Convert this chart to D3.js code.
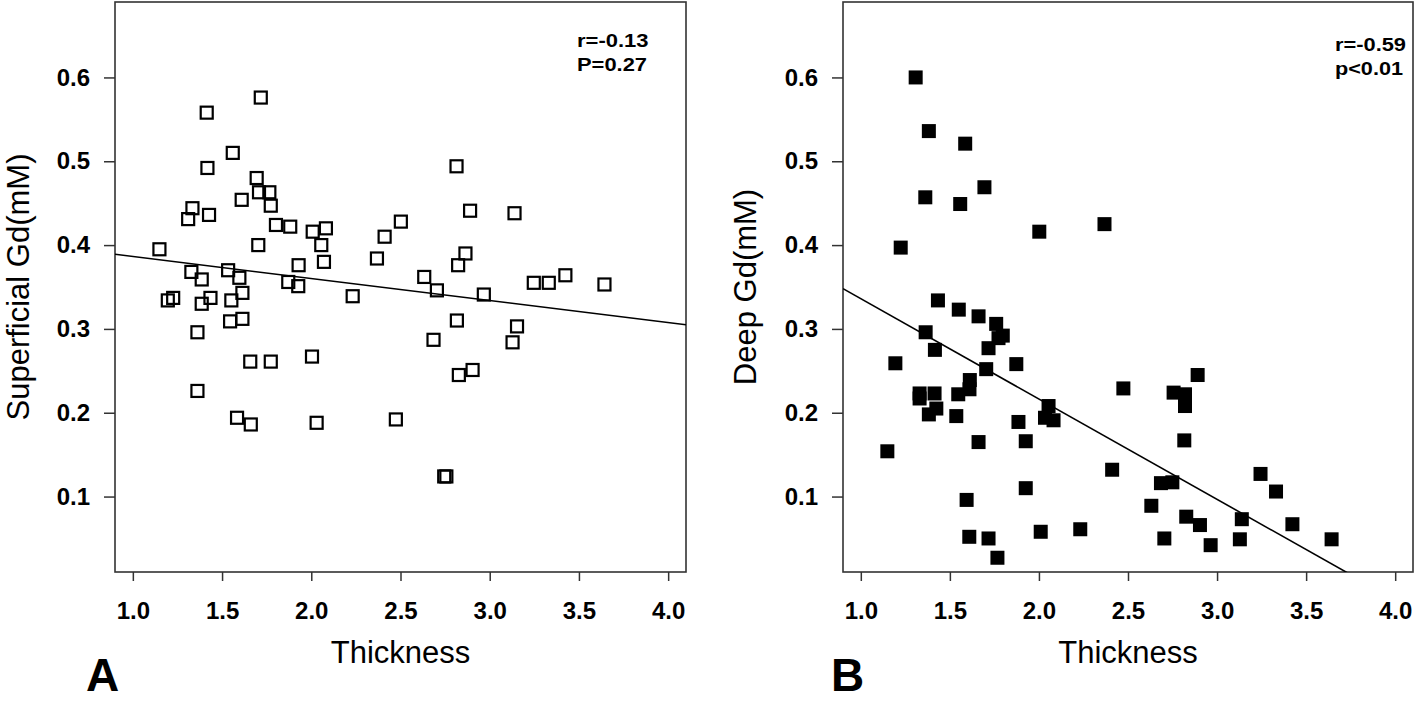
<!DOCTYPE html>
<html>
<head>
<meta charset="utf-8">
<script src="https://cdn.jsdelivr.net/npm/d3@7"></script>
<style>
  html, body { margin: 0; padding: 0; background: #fff; }
  svg { display: block; }
  text { font-family: "Liberation Sans", Arial, sans-serif; fill: #000; }
</style>
</head>
<body>
<svg id="chart" width="1418" height="702"></svg>
<script>
// ---- data ----
const xTicks = [1.0, 1.5, 2.0, 2.5, 3.0, 3.5, 4.0];
const yTicks = [0.1, 0.2, 0.3, 0.4, 0.5, 0.6];

const superficialThickness = [1.717,1.414,1.560,1.418,1.694,1.707,1.765,1.610,1.773,1.334,1.310,1.427,1.802,1.882,2.008,2.082,2.056,1.703,1.149,2.502,2.411,2.368,2.071,1.929,1.328,1.534,1.386,1.597,1.871,1.927,1.196,1.226,1.386,1.435,1.552,1.614,2.232,1.545,1.614,1.362,1.658,1.773,2.004,1.362,1.584,1.661,2.030,2.474,2.814,2.890,3.139,2.864,2.823,2.633,2.704,2.967,3.247,3.331,3.424,3.643,2.816,2.685,3.153,3.128,2.904,2.827,2.745,2.757];
const superficialGd = [0.576,0.558,0.510,0.492,0.480,0.463,0.463,0.454,0.447,0.444,0.431,0.436,0.424,0.422,0.416,0.420,0.400,0.400,0.395,0.428,0.410,0.384,0.380,0.376,0.368,0.370,0.359,0.361,0.356,0.351,0.334,0.337,0.330,0.337,0.334,0.343,0.339,0.309,0.312,0.296,0.261,0.261,0.267,0.226,0.194,0.186,0.188,0.192,0.494,0.441,0.438,0.390,0.376,0.362,0.346,0.341,0.355,0.355,0.364,0.353,0.310,0.287,0.303,0.284,0.251,0.245,0.124,0.124];

const deepThickness = [1.308,1.382,1.586,1.694,1.362,1.558,2.002,2.368,1.224,1.433,1.550,1.661,1.760,1.797,1.773,1.717,1.364,1.416,1.194,1.873,1.704,1.612,1.610,1.547,1.330,1.414,1.330,1.424,1.382,1.536,2.474,2.054,2.034,2.082,1.885,1.661,1.926,1.149,2.411,1.926,1.594,1.609,1.717,1.767,2.010,2.232,2.891,2.756,2.820,2.820,2.816,2.685,2.749,3.244,3.331,2.631,2.827,2.904,3.139,3.423,2.704,2.964,3.128,3.643];
const deepGd = [0.600,0.536,0.521,0.469,0.457,0.449,0.416,0.425,0.397,0.334,0.323,0.315,0.306,0.292,0.289,0.277,0.296,0.275,0.259,0.258,0.252,0.239,0.228,0.222,0.223,0.223,0.217,0.205,0.198,0.196,0.229,0.208,0.194,0.191,0.189,0.165,0.166,0.154,0.132,0.110,0.096,0.052,0.050,0.027,0.058,0.061,0.245,0.224,0.222,0.208,0.167,0.116,0.117,0.127,0.106,0.089,0.076,0.066,0.073,0.067,0.050,0.042,0.049,0.049];

// fitted regression lines (end points)
const superficialFitX = [0.9, 4.1];
const superficialFitY = [0.389, 0.305];
const deepFitX = [0.9, 4.1];
const deepFitY = [0.348, -0.035];

const panels = [
  { id: "A", yTitle: "Superficial Gd(mM)", xs: superficialThickness, ys: superficialGd,
    fitX: superficialFitX, fitY: superficialFitY, filled: false,
    stats: ["r=-0.13", "P=0.27"] },
  { id: "B", yTitle: "Deep Gd(mM)", xs: deepThickness, ys: deepGd,
    fitX: deepFitX, fitY: deepFitY, filled: true,
    stats: ["r=-0.59", "p<0.01"] }
];

// ---- layout ----
const layout = [
  { left: 115, right: 686, statX: 577, statY: [47, 71], statLen: [71.5, 70], titleX: 29, letterX: 86 },
  { left: 843, right: 1413, statX: 1335, statY: [51, 75], statLen: [71, 68], titleX: 756, letterX: 831 }
];
const plotTop = 2, plotBottom = 572;
const frameColor = "#333";

const svg = d3.select("#chart");

panels.forEach((p, i) => {
  const L = layout[i];
  const x = d3.scaleLinear().domain([0.9, 4.1]).range([L.left, L.right]);
  const y = d3.scaleLinear().domain([0.01, 0.69]).range([plotBottom, plotTop]);
  const g = svg.append("g");

  const clipId = "clip" + p.id;
  svg.append("clipPath").attr("id", clipId)
    .append("rect").attr("x", L.left).attr("y", plotTop)
    .attr("width", L.right - L.left).attr("height", plotBottom - plotTop);

  // y axis
  const yAx = g.append("g").attr("transform", `translate(${L.left},0)`)
    .call(d3.axisLeft(y).tickValues(yTicks).tickSize(11).tickPadding(14).tickFormat(d3.format(".1f")));
  yAx.select(".domain").remove();
  yAx.selectAll("line").attr("stroke", frameColor).attr("stroke-width", 1.5);
  yAx.selectAll("text").style("font-family", "'Liberation Sans', Arial, sans-serif")
    .style("font-size", "24px").style("font-weight", "bold").attr("fill", "#000");

  // x axis
  const xAx = g.append("g").attr("transform", `translate(0,${plotBottom})`)
    .call(d3.axisBottom(x).tickValues(xTicks).tickSize(9).tickPadding(21).tickFormat(d3.format(".1f")));
  xAx.select(".domain").remove();
  xAx.selectAll("line").attr("stroke", frameColor).attr("stroke-width", 1.5);
  xAx.selectAll("text").style("font-family", "'Liberation Sans', Arial, sans-serif")
    .style("font-size", "24px").style("font-weight", "bold").attr("fill", "#000");

  // frame
  g.append("rect").attr("x", L.left).attr("y", plotTop)
    .attr("width", L.right - L.left).attr("height", plotBottom - plotTop)
    .attr("fill", "none").attr("stroke", frameColor).attr("stroke-width", 1.6);

  // regression line
  g.append("line").attr("clip-path", `url(#${clipId})`)
    .attr("x1", x(p.fitX[0])).attr("y1", y(p.fitY[0]))
    .attr("x2", x(p.fitX[1])).attr("y2", y(p.fitY[1]))
    .attr("stroke", "#000").attr("stroke-width", 1.6);

  // points
  const pts = d3.zip(p.xs, p.ys);
  if (p.filled) {
    g.append("g").selectAll("rect").data(pts).join("rect")
      .attr("x", d => x(d[0]) - 7).attr("y", d => y(d[1]) - 7)
      .attr("width", 14).attr("height", 14).attr("fill", "#000");
  } else {
    g.append("g").selectAll("rect").data(pts).join("rect")
      .attr("x", d => x(d[0]) - 6).attr("y", d => y(d[1]) - 6)
      .attr("width", 12).attr("height", 12)
      .attr("fill", "none").attr("stroke", "#000").attr("stroke-width", 2.2);
  }

  // stats
  p.stats.forEach((s, k) => {
    g.append("text").attr("x", L.statX).attr("y", L.statY[k])
      .attr("textLength", L.statLen[k]).attr("lengthAdjust", "spacingAndGlyphs")
      .style("font-size", "18px").style("font-weight", "bold").text(s);
  });

  // axis titles
  g.append("text").attr("x", (L.left + L.right) / 2).attr("y", 663)
    .attr("text-anchor", "middle").style("font-size", "31px").text("Thickness");
  g.append("text").attr("transform", `translate(${L.titleX},${(plotTop + plotBottom) / 2}) rotate(-90)`)
    .attr("text-anchor", "middle").style("font-size", "31px").text(p.yTitle);

  // panel letter
  g.append("text").attr("x", L.letterX).attr("y", 691)
    .style("font-size", "46px").style("font-weight", "bold").text(p.id);
});
</script>
</body>
</html>
